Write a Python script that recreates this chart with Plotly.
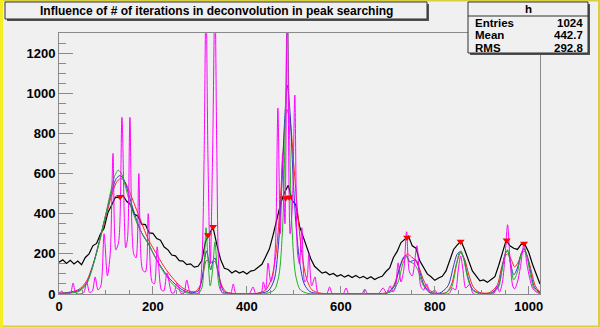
import plotly.graph_objects as go

# ---------------- data ----------------
# source spectrum (black histogram), sampled every 8 channels
src_x = list(range(0, 1025, 8))
src_y = [158, 170, 152, 168, 150, 164, 146, 182, 200, 240, 252, 298, 328, 405, 442, 482,
         480, 492, 462, 446, 398, 388, 348, 346, 304, 302, 276, 268, 234, 220, 194, 190,
         166, 164, 146, 150, 134, 138, 165, 262, 300, 332, 246, 172, 128, 122, 105, 116,
         104, 112, 100, 114, 118, 132, 148, 186, 225, 296, 380, 452, 505, 542, 468, 445,
         338, 285, 222, 176, 138, 122, 104, 110, 96, 102, 88, 96, 84, 94, 82, 92,
         80, 88, 76, 86, 72, 82, 88, 112, 130, 182, 212, 256, 272, 288, 240, 228,
         165, 135, 100, 86, 68, 80, 88, 115, 165, 222, 245, 264, 218, 165, 115, 90,
         66, 70, 58, 72, 86, 142, 200, 268, 240, 228, 222, 248, 246, 208, 148, 95, 50]

# deconvolved spectrum, 3 iterations (red)
it3_x = [0, 20, 40, 50, 60, 70, 80, 90, 100, 112, 122, 131, 140, 150, 160, 170, 180, 190,
         200, 210, 220, 230, 240, 250, 260, 275, 290, 300, 308, 314, 320, 326, 332, 338,
         346, 356, 380, 420, 440, 452, 462, 470, 478, 485, 492, 500, 508, 516, 526, 538,
         555, 600, 660, 700, 712, 724, 734, 742, 750, 758, 766, 776, 788, 805, 825, 836,
         846, 855, 864, 872, 882, 895, 915, 932, 942, 950, 956, 963, 970, 978, 985, 991,
         998, 1006, 1014, 1024]
it3_y = [4, 8, 20, 38, 70, 130, 205, 295, 385, 490, 555, 575, 560, 510, 450, 390, 330, 272,
         230, 190, 150, 115, 85, 58, 36, 16, 12, 40, 115, 168, 160, 158, 162, 118,
         45, 10, 2, 3, 20, 75, 200, 420, 740, 920, 860, 640, 410, 220, 85, 22,
         5, 2, 2, 8, 40, 120, 180, 200, 185, 170, 135, 70, 20, 4, 8, 50,
         150, 205, 170, 100, 35, 8, 6, 40, 130, 190, 200, 170, 135, 160, 205, 212,
         180, 110, 40, 10]

# 10 iterations (blue)
it10_x = [0, 20, 40, 50, 60, 70, 80, 90, 100, 112, 122, 130, 138, 148, 158, 168, 178, 190,
          200, 212, 224, 236, 248, 262, 280, 296, 304, 310, 314, 318, 323, 328, 332, 337,
          344, 352, 370, 420, 445, 458, 467, 474, 480, 486, 492, 498, 505, 513, 522, 534,
          550, 600, 660, 700, 714, 726, 734, 740, 746, 752, 760, 768, 778, 792, 810, 828,
          840, 848, 855, 862, 870, 880, 895, 920, 935, 944, 950, 955, 961, 968, 976, 984,
          990, 996, 1004, 1012, 1024]
it10_y = [3, 6, 15, 30, 60, 125, 210, 305, 400, 510, 575, 590, 570, 500, 420, 350, 295, 250,
          205, 155, 112, 75, 48, 22, 6, 15, 70, 170, 215, 175, 120, 165, 180, 130,
          50, 10, 2, 2, 15, 70, 240, 520, 850, 1040, 900, 600, 330, 150, 50, 12,
          3, 2, 2, 6, 40, 140, 185, 190, 160, 165, 170, 110, 40, 6, 4, 40,
          140, 200, 210, 175, 90, 25, 4, 5, 40, 140, 200, 215, 160, 95, 130, 200,
          225, 195, 110, 35, 6]

# 100 iterations (green)
it100_x = [0, 20, 40, 50, 60, 70, 80, 90, 100, 110, 118, 126, 134, 142, 150, 160, 170, 180,
           190, 200, 212, 224, 236, 248, 262, 280, 296, 304, 309, 313, 317, 322, 327, 332,
           336, 342, 350, 380, 440, 458, 468, 476, 482, 486, 490, 496, 504, 514, 530, 560,
           650, 690, 710, 722, 732, 740, 748, 756, 764, 774, 788, 805, 820, 835, 845, 852,
           856, 862, 870, 880, 895, 920, 935, 944, 950, 955, 961, 968, 976, 984, 990, 996,
           1004, 1012, 1024]
it100_y = [2, 4, 10, 25, 55, 120, 205, 300, 400, 510, 585, 617, 595, 530, 460, 390, 330, 290,
           255, 205, 150, 105, 65, 35, 12, 3, 2, 30, 150, 330, 180, 40, 120, 260,
           150, 30, 3, 2, 2, 20, 90, 330, 900, 1450, 900, 330, 90, 20, 3, 2,
           2, 2, 15, 60, 150, 185, 160, 150, 120, 50, 8, 2, 2, 30, 130, 205,
           215, 170, 80, 20, 2, 2, 30, 130, 200, 220, 150, 70, 110, 200, 230, 190,
           90, 25, 3]

# 1000 iterations (magenta)
it1000_x = [0, 6, 10, 24, 30, 36, 52, 59, 65, 71, 77, 83, 89, 96, 103, 109, 115, 121,
            127, 134, 142, 146, 151, 159, 164, 170, 178, 184, 190, 198, 203, 209, 218, 223,
            230, 240, 245, 251, 260, 266, 272, 280, 295, 300, 305, 309, 313, 317, 322, 327,
            332, 336, 341, 348, 365, 371, 377, 405, 413, 419, 430, 435, 440, 445, 451, 456,
            461, 466, 471, 476, 481, 486, 492, 497, 502, 508, 512, 517, 523, 528, 532, 538,
            545, 552, 570, 576, 582, 605, 611, 617, 645, 651, 657, 680, 690, 698, 705, 711,
            716, 722, 728, 734, 740, 746, 752, 762, 770, 776, 783, 790, 800, 806, 830, 838,
            844, 850, 855, 860, 866, 875, 882, 925, 932, 938, 944, 950, 955, 960, 966, 970,
            976, 982, 990, 996, 1002, 1008, 1016, 1024]
it1000_y = [3, 15, 2, 3, 55, 3, 5, 60, 8, 15, 85, 20, 40, 300, 90, 200, 700, 220,
            260, 880, 230, 280, 880, 200, 180, 600, 120, 110, 400, 60, 50, 235, 20, 15,
            105, 5, 6, 55, 3, 4, 70, 3, 2, 30, 200, 700, 1500, 700, 150, 700,
            1500, 700, 100, 5, 2, 50, 2, 2, 35, 2, 2, 60, 20, 154, 60, 100,
            250, 926, 300, 700, 350, 1500, 300, 450, 991, 200, 150, 330, 60, 80, 200, 40,
            85, 3, 2, 35, 2, 2, 30, 2, 2, 25, 2, 2, 30, 3, 40, 10,
            30, 155, 60, 120, 310, 110, 90, 240, 40, 20, 50, 3, 20, 2, 2, 30,
            20, 120, 190, 120, 30, 50, 2, 2, 40, 10, 60, 200, 345, 180, 40, 25,
            60, 130, 250, 150, 80, 30, 10, 2]

# peaks found by the search
peak_x = [130, 317, 328, 483, 490, 741, 855, 953, 990]
peak_y = [485, 294, 335, 478, 482, 282, 262, 268, 252]

title_text = "Influence of # of iterations in deconvolution in peak searching"
stats_name = "h"
stats_rows = [("Entries", "1024"), ("Mean", "442.7"), ("RMS", "292.8")]
x_ticks = [0, 200, 400, 600, 800, 1000]
y_ticks = [0, 200, 400, 600, 800, 1000, 1200]

# ---------------- layout geometry (pixels) ----------------
W, H = 600, 328
FL, FR, FT, FB = 59, 540, 33, 294   # frame edges


def fx(p):
    return (p - FL) / (FR - FL)


def fy(p):
    return (FB - p) / (FB - FT)


BG = "#f0f0f0"
FONT = "Liberation Sans, Arial, Helvetica, sans-serif"

fig = go.Figure()

line_kw = dict(mode="lines", hoverinfo="skip", showlegend=False)
fig.add_trace(go.Scatter(x=src_x, y=src_y, line=dict(color="black", width=1.2), **line_kw))
fig.add_trace(go.Scatter(x=it3_x, y=it3_y, line=dict(color="#ff2020", width=1, shape="spline", smoothing=0.8), **line_kw))
fig.add_trace(go.Scatter(x=it10_x, y=it10_y, line=dict(color="#3030d0", width=1, shape="spline", smoothing=0.8), **line_kw))
fig.add_trace(go.Scatter(x=it100_x, y=it100_y, line=dict(color="#20b020", width=1, shape="spline", smoothing=0.8), **line_kw))
fig.add_trace(go.Scatter(x=it1000_x, y=it1000_y, line=dict(color="#ff00ff", width=1, shape="spline", smoothing=0.8), **line_kw))
fig.add_trace(go.Scatter(x=peak_x, y=peak_y, mode="markers", hoverinfo="skip", showlegend=False,
                         marker=dict(symbol="triangle-down", size=7, color="#ff0000",
                                     line=dict(width=0))))

axis_common = dict(
    showgrid=False, zeroline=False, showline=True, linecolor="#8a8a8a", linewidth=1,
    mirror=True, ticks="inside", tickcolor="#8a8a8a",
    tickfont=dict(family=FONT, size=13, color="black", weight="bold"),
)

fig.update_xaxes(range=[0, 1024], tickvals=x_ticks, ticklen=8,
                 minor=dict(dtick=50, tick0=0, ticks="inside", ticklen=4, tickcolor="#8a8a8a"),
                 **axis_common)
fig.update_yaxes(range=[0, 1300], tickvals=y_ticks, ticklen=14,
                 minor=dict(dtick=50, tick0=0, ticks="inside", ticklen=7, tickcolor="#8a8a8a"),
                 **axis_common)

shapes = []
# canvas border
shapes.append(dict(type="rect", xref="paper", yref="paper",
                   x0=fx(1), x1=fx(599), y0=fy(326.5), y1=fy(0.5),
                   line=dict(color="#d8d040", width=2), fillcolor="rgba(0,0,0,0)", layer="below"))
shapes.append(dict(type="rect", xref="paper", yref="paper",
                   x0=fx(0), x1=fx(3), y0=fy(328), y1=fy(0),
                   line=dict(width=0), fillcolor="#f4ee20"))

# title box with shadow
shapes.append(dict(type="rect", xref="paper", yref="paper",
                   x0=fx(7), x1=fx(429), y0=fy(21), y1=fy(4),
                   line=dict(width=0), fillcolor="#505050"))
shapes.append(dict(type="rect", xref="paper", yref="paper",
                   x0=fx(5), x1=fx(427), y0=fy(19), y1=fy(2),
                   line=dict(color="#303030", width=1), fillcolor=BG))

# stats box with shadow
shapes.append(dict(type="rect", xref="paper", yref="paper",
                   x0=fx(470), x1=fx(590), y0=fy(55), y1=fy(4),
                   line=dict(width=0), fillcolor="#505050"))
shapes.append(dict(type="rect", xref="paper", yref="paper",
                   x0=fx(468), x1=fx(588), y0=fy(53), y1=fy(2),
                   line=dict(color="#303030", width=1), fillcolor=BG))
shapes.append(dict(type="line", xref="paper", yref="paper",
                   x0=fx(468), x1=fx(588), y0=fy(16), y1=fy(16),
                   line=dict(color="#303030", width=1)))

annotations = [
    dict(text=title_text, xref="paper", yref="paper", x=fx(216), y=fy(10.5),
         xanchor="center", yanchor="middle", showarrow=False, height=15,
         font=dict(family=FONT, size=12, color="black", weight="bold")),
    dict(text=stats_name, xref="paper", yref="paper", x=fx(528), y=fy(9),
         xanchor="center", yanchor="middle", showarrow=False, height=12,
         font=dict(family=FONT, size=11.5, color="black", weight="bold")),
]
row_y = [22.5, 35.5, 48.5]
for (name, val), ry in zip(stats_rows, row_y):
    annotations.append(dict(text=name, xref="paper", yref="paper", x=fx(473), y=fy(ry),
                            xanchor="left", yanchor="middle", showarrow=False, height=12,
                            font=dict(family=FONT, size=11.5, color="black", weight="bold")))
    annotations.append(dict(text=val, xref="paper", yref="paper", x=fx(585), y=fy(ry),
                            xanchor="right", yanchor="middle", showarrow=False, height=12,
                            font=dict(family=FONT, size=11.5, color="black", weight="bold")))

fig.update_layout(
    width=W, height=H,
    margin=dict(l=FL, r=W - FR, t=FT, b=H - FB, pad=0),
    paper_bgcolor=BG, plot_bgcolor=BG,
    shapes=shapes, annotations=annotations,
    showlegend=False,
)

fig.write_html("out.html")
